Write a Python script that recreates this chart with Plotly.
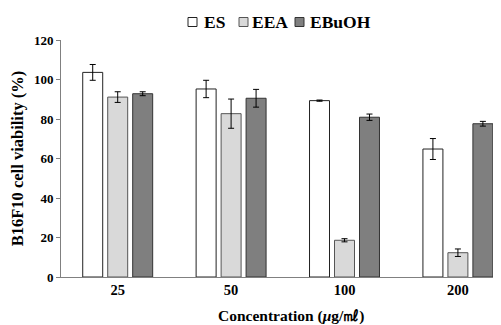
import plotly.graph_objects as go

categories = ["25", "50", "100", "200"]
series_names = ["ES", "EEA", "EBuOH"]
es_values = [103.6, 95.2, 89.3, 64.8]
es_err = [4.0, 4.4, 0.3, 5.3]
eea_values = [91.1, 82.7, 18.6, 12.3]
eea_err = [2.7, 7.4, 0.8, 1.9]
ebuoh_values = [92.8, 90.5, 80.9, 77.6]
ebuoh_err = [1.0, 4.5, 1.6, 1.2]
y_ticks = [0, 20, 40, 60, 80, 100, 120]

colors = ["#ffffff", "#d9d9d9", "#7f7f7f"]
line_colors = ["#222222", "#555555", "#333333"]
font_family = "Liberation Serif, Times New Roman, serif"

# layout geometry (page body has an 8px margin)
W, H = 493, 317
L, R, T, B = 53, 0, 32, 48
PW, PH = W - L - R, H - T - B
OFF = 8


def px2paper_x(sx):
    return (sx - OFF - L) / PW


def px2paper_y(sy):
    return (H - B - (sy - OFF)) / PH


fig = go.Figure()
for name, vals, errs, c, lc in zip(series_names, [es_values, eea_values, ebuoh_values],
                                  [es_err, eea_err, ebuoh_err], colors, line_colors):
    fig.add_trace(go.Bar(
        name=name, x=categories, y=vals,
        marker=dict(color=c, line=dict(color=lc, width=1)),
        error_y=dict(type="data", array=errs, color="#000000", thickness=1, width=3),
        showlegend=False,
    ))

# custom legend: small squares + bold text
legend_sq_left = [188, 239, 295]
legend_text_left = [202, 250, 308]
leg_cy = 22
for name, c, lc, sx, tx in zip(series_names, colors, line_colors, legend_sq_left, legend_text_left):
    fig.add_shape(type="rect", xref="paper", yref="paper",
                  x0=px2paper_x(sx), x1=px2paper_x(sx + 9),
                  y0=px2paper_y(leg_cy + 4.5), y1=px2paper_y(leg_cy - 4.5),
                  fillcolor=c, line=dict(color=lc, width=1))
    fig.add_annotation(text=name, xref="paper", yref="paper",
                       x=px2paper_x(tx), y=px2paper_y(leg_cy), xanchor="left", yanchor="middle",
                       showarrow=False, font=dict(size=17.5, weight="bold", family=font_family))

# x-axis title as annotation (slightly right of plot centre, as in the reference)
fig.add_annotation(text="Concentration (<i>μ</i>g/㎖)", xref="paper", yref="paper",
                   x=px2paper_x(290.5), y=px2paper_y(316), xanchor="center", yanchor="middle",
                   showarrow=False, font=dict(size=15.5, weight="bold", family=font_family))

fig.update_layout(
    width=W, height=H,
    margin=dict(l=L, r=R, t=T, b=B, pad=0, autoexpand=False),
    paper_bgcolor="white", plot_bgcolor="white",
    barmode="group", bargap=0.339, bargroupgap=0.2,
    font=dict(family=font_family, color="#000000"),
    showlegend=False,
    xaxis=dict(
        type="category", range=[-0.5, 3.38], automargin=False,
        showline=True, linecolor="#808080", linewidth=1,
        ticks="", showgrid=False,
        tickfont=dict(size=14.5, weight="bold"),
    ),
    yaxis=dict(
        range=[0, 120], tickvals=y_ticks, showgrid=False, zeroline=False, automargin=False,
        showline=True, linecolor="#808080", linewidth=1,
        ticks="outside", ticklen=4, tickcolor="#808080",
        tickfont=dict(size=13, weight="bold"),
        title=dict(text="B16F10 cell viability (%)", font=dict(size=16.5, weight="bold"), standoff=9),
    ),
)

fig.write_html("out.html")
